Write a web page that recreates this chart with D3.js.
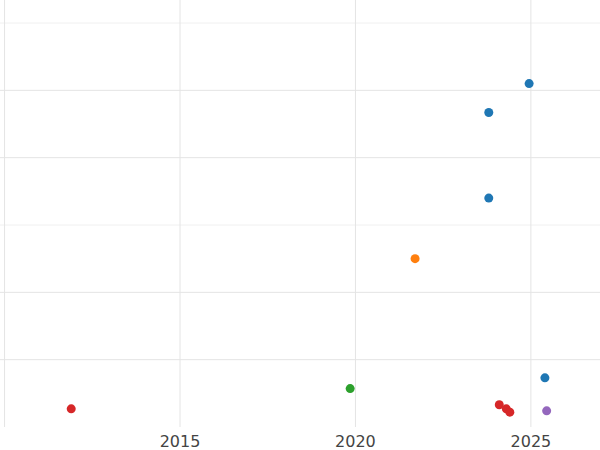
<!DOCTYPE html>
<html><head><meta charset="utf-8">
<script src="https://cdn.jsdelivr.net/npm/d3@7"></script>
<style>body{margin:0;background:#fff}</style>
</head><body>
<svg id="c" width="600" height="450"></svg>
<script>
// data
var years = [2011.9, 2019.85, 2025.4, 2021.7, 2023.8, 2023.8, 2024.95, 2024.1, 2024.3, 2024.4, 2025.45];
var values = [0.27, 0.57, 0.73, 2.5, 3.4, 4.67, 5.1, 0.33, 0.27, 0.22, 0.24];
var groups = ["red", "green", "blue", "orange", "blue", "blue", "blue", "red", "red", "red", "purple"];
var xTicks = [2010, 2015, 2020, 2025];
var yGrid = [1, 2, 3, 4, 5, 6];

var palette = {blue: "#1f77b4", orange: "#ff7f0e", green: "#2ca02c", red: "#d62728", purple: "#9467bd"};

var svg = d3.select("#c");
var x = d3.scaleLinear().domain([2009.87, 2026.97]).range([0, 600]);
var y = d3.scaleLinear().domain([0, 6]).range([427, 23]);

svg.append("g").selectAll("line").data(yGrid).join("line")
	.attr("x1", 0).attr("x2", 600)
	.attr("y1", d => y(d)).attr("y2", d => y(d))
	.attr("stroke", (d, i) => i % 3 == 2 || i == 5 ? "#f0f0f0" : "#e4e4e4");

svg.append("g").selectAll("line").data(xTicks).join("line")
	.attr("x1", d => x(d)).attr("x2", d => x(d))
	.attr("y1", 0).attr("y2", 427)
	.attr("stroke", "#e4e4e4");

svg.append("g").selectAll("text").data(xTicks.slice(1)).join("text")
	.attr("x", d => x(d)).attr("y", 447)
	.attr("text-anchor", "middle")
	.attr("font-family", "DejaVu Sans").attr("font-size", 16)
	.attr("fill", "#444").text(d => d);

svg.append("g").selectAll("circle").data(years).join("circle")
	.attr("cx", d => x(d))
	.attr("cy", (d, i) => y(values[i]))
	.attr("r", 4.5)
	.attr("fill", (d, i) => palette[groups[i]]);
</script>
</body></html>
